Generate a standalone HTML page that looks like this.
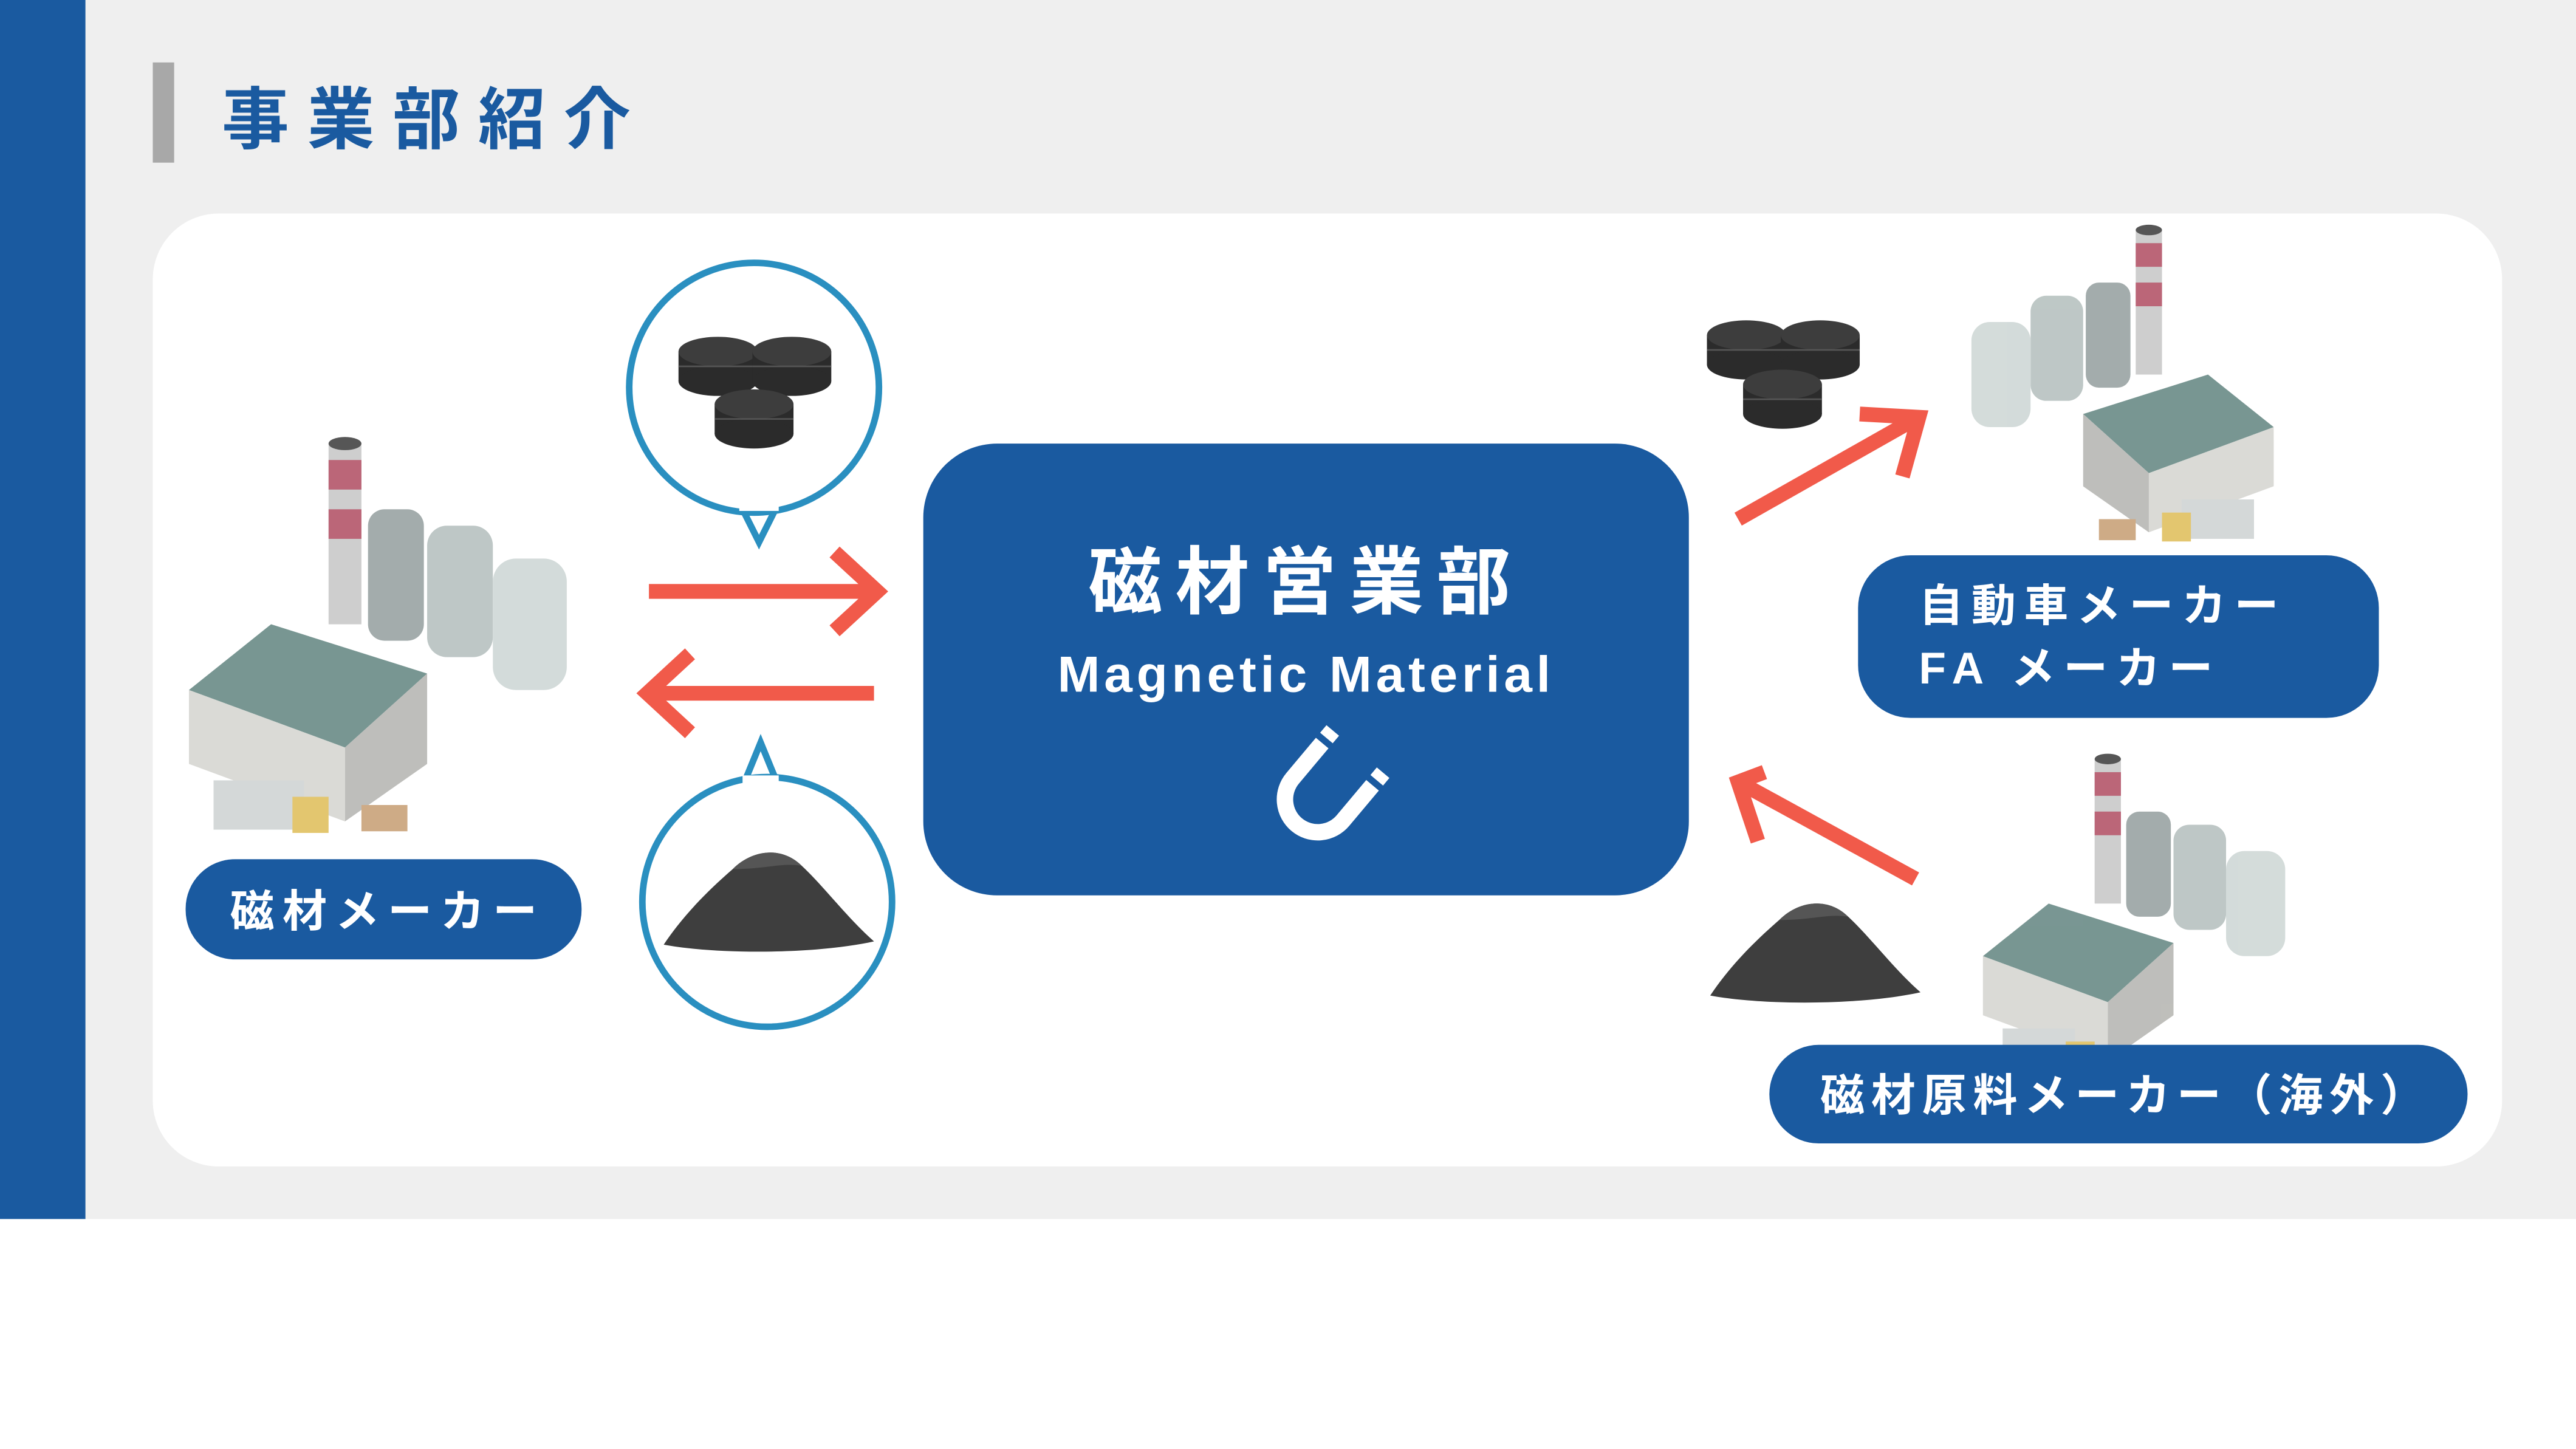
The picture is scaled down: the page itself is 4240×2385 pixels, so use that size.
<!DOCTYPE html>
<html><head><meta charset="utf-8"><style>
html,body{margin:0;padding:0;background:#fff;}
svg{display:block;}
text{font-family:"Liberation Sans","Noto Sans CJK JP",sans-serif;font-weight:bold;}
</style></head><body>
<svg width="4240" height="2385" viewBox="0 0 1568 882" xmlns="http://www.w3.org/2000/svg">
<defs>
<g id="puck">
<rect x="-24" y="0" width="48" height="18" fill="#2b2b2b"/>
<ellipse cx="0" cy="18" rx="24" ry="9" fill="#2b2b2b"/>
<ellipse cx="0" cy="0" rx="24" ry="9" fill="#3d3d3d"/>
<line x1="-24" y1="9" x2="24" y2="9" stroke="#555" stroke-width="1"/>
</g>
<g id="pile">
<path d="M-62,28 C-50,10 -35,-5 -20,-18 C-8,-30 10,-32 22,-20 C35,-8 50,12 66,26 C30,34 -30,34 -62,28Z" fill="#3e3e3e"/>
<path d="M-20,-18 C-8,-30 10,-32 22,-20 C10,-22 0,-18 -20,-18Z" fill="#555"/>
</g>
<g id="factory">
<rect x="0" y="-110" width="20" height="110" fill="#c9c9c9"/>
<rect x="0" y="-100" width="20" height="18" fill="#b4566a"/>
<rect x="0" y="-70" width="20" height="18" fill="#b4566a"/>
<ellipse cx="10" cy="-110" rx="10" ry="4" fill="#444"/>
<rect x="24" y="-70" width="34" height="80" rx="10" fill="#9aa4a4"/>
<rect x="60" y="-60" width="40" height="80" rx="12" fill="#b7c2c0"/>
<rect x="100" y="-40" width="45" height="80" rx="14" fill="#cfd8d6"/>
<polygon points="-85,40 -35,0 60,30 10,75" fill="#6a8b87"/>
<polygon points="-85,40 10,75 10,120 -85,85" fill="#d6d6d2"/>
<polygon points="10,75 60,30 60,85 10,120" fill="#b8b8b4"/>
<rect x="-70" y="95" width="55" height="30" fill="#d0d4d4"/>
<rect x="-22" y="105" width="22" height="22" fill="#e0c060"/>
<rect x="20" y="110" width="28" height="16" fill="#c9a27a"/>
</g>
</defs>
<rect x="0" y="0" width="1568" height="742" fill="#efefef"/>
<rect x="0" y="0" width="52" height="742" fill="#1a5aa0"/>
<rect x="93" y="38" width="13" height="61" fill="#a8a8a8"/>
<text x="135" y="87" font-size="41" fill="#1a5aa0" letter-spacing="11">事業部紹介</text>
<rect x="93" y="130" width="1430" height="580" rx="40" fill="#fff"/>
<!-- factories -->
<g opacity="0.9"><use href="#factory" x="200" y="380"/></g>
<g opacity="0.9" transform="translate(1316,228) scale(-0.8,0.8)"><use href="#factory"/></g>
<g opacity="0.9" transform="translate(1275,550) scale(0.8,0.8)"><use href="#factory"/></g>
<!-- center box -->
<rect x="562" y="270" width="466" height="275" rx="45" fill="#1a5aa0"/>
<text x="795" y="370" font-size="45" fill="#fff" text-anchor="middle" letter-spacing="8">磁材営業部</text>
<text x="795" y="421" font-size="31" fill="#fff" text-anchor="middle" letter-spacing="2.5">Magnetic Material</text>
<g transform="translate(806,482) rotate(40)">
<path d="M-20,-22 L-20,6 A20,20 0 0 0 20,6 L20,-22" fill="none" stroke="#fff" stroke-width="10"/>
<line x1="-20" y1="-32" x2="-20" y2="-26" stroke="#fff" stroke-width="10"/>
<line x1="20" y1="-32" x2="20" y2="-26" stroke="#fff" stroke-width="10"/>
</g>
<!-- labels -->
<rect x="113" y="523" width="241" height="61" rx="30" fill="#1a5aa0"/>
<text x="140" y="564" font-size="27" fill="#fff" letter-spacing="5">磁材メーカー</text>
<rect x="1131" y="338" width="317" height="99" rx="32" fill="#1a5aa0"/>
<text x="1168" y="378" font-size="27" fill="#fff" letter-spacing="5">自動車メーカー</text>
<text x="1168" y="416" font-size="27" fill="#fff" letter-spacing="5">FA メーカー</text>
<rect x="1077" y="636" width="425" height="60" rx="30" fill="#1a5aa0"/>
<text x="1108" y="676" font-size="27" fill="#fff" letter-spacing="4">磁材原料メーカー（海外）</text>
<!-- arrows -->
<g stroke="#f15a4a" stroke-width="9" fill="none" stroke-linecap="butt">
<line x1="395" y1="360" x2="532" y2="360"/>
<polyline points="508,336 534,360 508,384"/>
<line x1="398" y1="422" x2="532" y2="422"/>
<polyline points="420,398 394,422 420,446"/>
<line x1="1058" y1="316" x2="1164" y2="256"/>
<polyline points="1132,252 1168,254 1158,290"/>
<line x1="1166" y1="535" x2="1062" y2="478"/>
<polyline points="1074,470 1058,476 1070,512" />
</g>
<!-- bubbles -->
<path d="M452,310 L462,330 L472,310" fill="#fff" stroke="#2a8fc0" stroke-width="4"/>
<circle cx="459" cy="236" r="76" fill="#fff" stroke="#2a8fc0" stroke-width="4"/>
<rect x="450" y="305" width="24" height="6" fill="#fff"/>
<path d="M454,474 L463,452 L472,474" fill="#fff" stroke="#2a8fc0" stroke-width="4"/>
<circle cx="467" cy="549" r="76" fill="#fff" stroke="#2a8fc0" stroke-width="4"/>
<rect x="452" y="472" width="22" height="6" fill="#fff"/>
<use href="#puck" x="437" y="214"/>
<use href="#puck" x="482" y="214"/>
<use href="#puck" x="459" y="246"/>
<use href="#pile" x="466" y="547"/>
<use href="#puck" x="1063" y="204"/>
<use href="#puck" x="1108" y="204"/>
<use href="#puck" x="1085" y="234"/>
<use href="#pile" x="1103" y="578"/>
</svg>
</body></html>
